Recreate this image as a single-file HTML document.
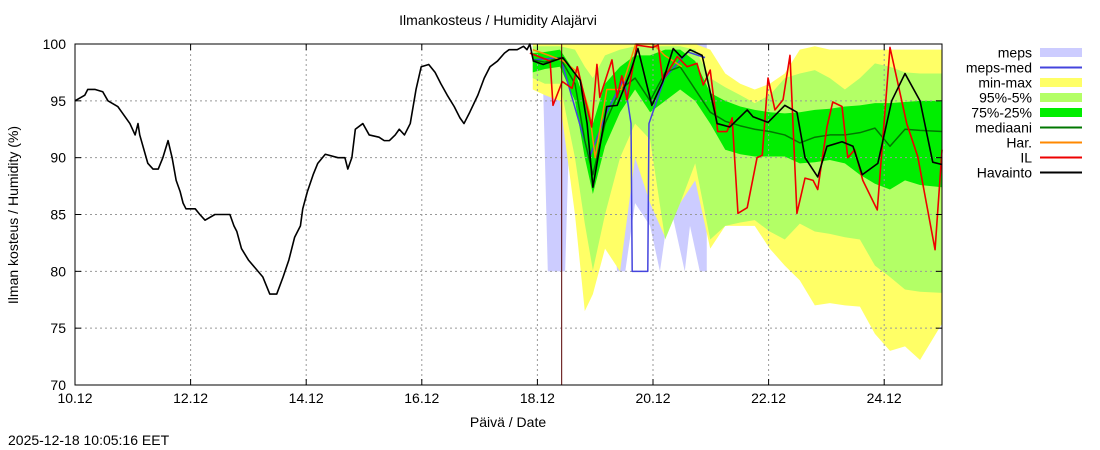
<!DOCTYPE html>
<html><head><meta charset="utf-8"><style>
body{margin:0;background:#fff;}
svg{display:block;font-family:"Liberation Sans",sans-serif;}
</style></head><body>
<svg id="c" width="1100" height="450" viewBox="0 0 1100 450">
<rect width="1100" height="450" fill="#fff"/>
<text x="498" y="25" font-size="14" text-anchor="middle">Ilmankosteus / Humidity  Alajärvi</text>
<text transform="translate(18,215) rotate(-90)" font-size="14" text-anchor="middle">Ilman kosteus / Humidity (%)</text>
<text x="508" y="427" font-size="14" text-anchor="middle">Päivä / Date</text>
<text x="8" y="445" font-size="14">2025-12-18 10:05:16 EET</text>
<g id="bands"></g><g id="grid"></g><g id="lines"></g><g id="axes"></g><g id="legend"></g>
</svg>
<script>
const xTickLabels=["10.12","12.12","14.12","16.12","18.12","20.12","22.12","24.12"];
const yTicks=[70,75,80,85,90,95,100];
// forecast sample times, days since 10.12 00:00
const fDays=[7.92,8.13,8.39,8.65,8.82,8.96,9.17,9.43,9.69,9.95,10.21,10.47,10.73,10.99,11.25,11.51,11.76,12.02,12.28,12.54,12.80,13.06,13.32,13.58,13.84,14.1,14.36,14.62,15.0];
const vMax=[100,100,100,100,100,100,100,100,100,100,100,100,100,99.5,97.4,96.5,96,96.5,97.4,99.5,99.8,99.5,99.5,99.5,99.5,99.5,99.5,99.5,99.5];
const vP95=[99.8,99.8,99.8,99.5,98,97,99,99.5,99.8,99.8,99.8,99.8,99.5,97,96.2,95.5,94.8,95.5,97,97.4,97.7,97,96,97,98.3,98,97.5,97.4,97.4];
const vP75=[99.2,99.3,99.5,97.5,95,93,96.5,98,99,99,99.5,99.5,98.5,95.7,95,94.5,94.2,94,93.9,94,94.2,94.3,94.5,94.6,94.8,94.8,94.9,95,95];
const vP25=[97.5,97.8,98,95,90,86.8,91,94,96,94,95,96,95,93,90.7,90.3,90.1,90.1,90.1,89.5,89.6,89.8,89.5,88.5,87.7,87.2,88,87.6,87.4];
const vP05=[97,96.5,96.5,90,84.2,80.1,85,90,93,91.6,82.8,86,89.5,82.8,84,84.3,84.5,83.5,82.8,84.2,83.5,83.3,83,82.8,80.5,79.5,78.4,78.2,78.1];
const vMin=[96,95.5,95,85,76.5,78,82,80,90,86,83,86,88,82,84,84,84,82,80.5,79.2,77,77.2,77,76.9,74.5,73,73.4,72.2,75.4];
const vMed=[98.6,98.4,98.8,96.5,91.5,88.5,93,96,97,95,97.5,98,96,94,93.2,92.8,92.5,92.3,92,91.3,91.8,92,92,92.2,92.6,91,92.5,92.4,92.3];
const mDays=[7.92,8.1,8.18,8.48,8.56,8.74,8.91,9.08,9.26,9.38,9.52,9.69,9.95,10.12,10.29,10.55,10.64,10.81,10.93];
const mLow=[98,96,80,80,94,96,93,94,86,80,80,86,84,80,86,80,84,80,80];
const mHigh=[100,100,100,100,100,100,100,100,100,100,100,100,100,100,100,100,100,100,100];
const medDays=[7.92,8.4,8.9,9.2,9.5,9.62,9.64,9.91,9.93,10.2,10.6,10.9];
const medVals=[98.6,98.8,90,94,97,93,80,80,93,97,99.3,98.8];
const obsDays=[0,0.17,0.22,0.35,0.48,0.57,0.74,0.81,0.95,1.04,1.09,1.12,1.26,1.35,1.44,1.52,1.61,1.68,1.75,1.82,1.87,1.92,2.08,2.16,2.25,2.42,2.62,2.68,2.75,2.8,2.88,3.0,3.25,3.37,3.49,3.6,3.7,3.8,3.9,3.94,4.02,4.12,4.2,4.33,4.55,4.67,4.72,4.79,4.85,4.98,5.09,5.26,5.35,5.44,5.54,5.61,5.7,5.8,5.9,5.99,6.12,6.23,6.33,6.44,6.56,6.66,6.73,6.83,6.97,7.08,7.18,7.31,7.43,7.51,7.65,7.76,7.82,7.87,7.93,8.1,8.44,8.74,8.86,8.96,9.2,9.38,9.6,9.74,9.98,10.17,10.35,10.5,10.64,10.85,11.11,11.33,11.63,11.73,11.99,12.28,12.49,12.63,12.85,13.01,13.27,13.46,13.62,13.89,14.13,14.36,14.62,14.84,15.0];
const obsVals=[95,95.5,96,96,95.8,95,94.5,94,93,92,93,92,89.5,89,89,90,91.5,90,88,87,86,85.5,85.5,85,84.5,85,85,85,84,83.5,82,81,79.5,78,78,79.5,81,83,84,85.5,87,88.5,89.5,90.3,90,90,89,90,92.5,93,92,91.8,91.5,91.5,92,92.5,92,93,96,98,98.2,97.5,96.5,95.5,94.5,93.5,93,94,95.5,97,98,98.5,99.2,99.5,99.5,99.8,99.5,100,98.5,98.2,98.8,96.8,93,87.4,94.5,94.6,97.4,99.6,94.6,96.7,99.6,98.8,99.5,99,93,92.7,94.2,93.6,93.1,94.6,94,90,88.3,91,91.4,91,88.5,89.5,95,97.4,95,89.6,89.4];
const ilDays=[7.87,8.22,8.27,8.43,8.6,8.69,8.94,9.03,9.08,9.29,9.38,9.46,9.55,9.72,10.0,10.09,10.17,10.42,10.59,10.76,10.87,10.99,11.12,11.28,11.37,11.47,11.63,11.8,11.89,11.99,12.11,12.25,12.37,12.49,12.63,12.77,12.85,13.01,13.11,13.27,13.37,13.49,13.63,13.88,14.1,14.39,14.58,14.88,15.0];
const ilVals=[99.2,98.5,94.6,96.7,96.1,98,92.7,98.2,95.3,98.6,95.3,97.2,95.1,99.9,99.7,99.9,96.8,98.9,98,98.3,96.4,97.7,92.3,92.3,93.5,85.1,85.6,90,90.2,97,94.2,95.1,99,85.1,88.2,88,87.2,92.7,94.9,94.5,90,90.7,88,85.4,99.7,93,90.1,81.9,90.7];
const harDays=[7.92,8.2,8.45,8.7,8.9,9.0,9.2,9.45,9.7,10.0,10.2,10.5];
const harVals=[99.5,99,98.5,97.5,94,90,96,96,100,100,99,98];

const X0=75,X1=942,Y0=44,Y1=385,DAYS=15;
const xs=d=>X0+d*(X1-X0)/DAYS;
const ys=v=>Y1-(v-70)*(Y1-Y0)/30;
const NS="http://www.w3.org/2000/svg";
function mk(tag,parent,attrs){const e=document.createElementNS(NS,tag);for(const k in attrs)e.setAttribute(k,attrs[k]);document.getElementById(parent).appendChild(e);return e;}
function band(days,lo,hi,color,name){
  let p=days.map((d,i)=>xs(d)+","+ys(hi[i]));
  for(let i=days.length-1;i>=0;i--)p.push(xs(days[i])+","+ys(lo[i]));
  const e=mk("polygon","bands",{points:p.join(" "),fill:color});
  
  
}
function line(days,vals,color,w,name){
  const e=mk("polyline","lines",{points:days.map((d,i)=>xs(d)+","+ys(vals[i])).join(" "),fill:"none",stroke:color,"stroke-width":w,"stroke-linejoin":"round"});
  
  
}
band(mDays,mLow,mHigh,"#ccccff","meps-band");
band(fDays,vMin,vMax,"#ffff66","min-max-band");
band(fDays,vP05,vP95,"#b3ff66","p95-p5-band");
band(fDays,vP25,vP75,"#00ee00","p75-p25-band");
xTickLabels.forEach((t,i)=>{
  const x=xs(i*2);
  if(i>0){const g=mk("line","grid",{x1:x,x2:x,y1:Y0,y2:Y1,stroke:"#999","stroke-dasharray":"2,3","stroke-width":1});
  }
  const tk=mk("text","axes",{x:x,y:Y1+18,"font-size":14,"text-anchor":"middle"});tk.textContent=t;
  
  mk("line","axes",{x1:x,x2:x,y1:Y1,y2:Y1-6,stroke:"#000"});
  mk("line","axes",{x1:x,x2:x,y1:Y0,y2:Y0+6,stroke:"#000"});
});
yTicks.forEach(v=>{
  const y=ys(v);
  if(v>70&&v<100){const g=mk("line","grid",{x1:X0,x2:X1,y1:y,y2:y,stroke:"#999","stroke-dasharray":"2,3","stroke-width":1});
  }
  const tk=mk("text","axes",{x:X0-9,y:y+5,"font-size":14,"text-anchor":"end"});tk.textContent=v;
  
  mk("line","axes",{x1:X0,x2:X0+6,y1:y,y2:y,stroke:"#000"});
  mk("line","axes",{x1:X1,x2:X1-6,y1:y,y2:y,stroke:"#000"});
});
line(medDays,medVals,"#4444dd",1.5,"meps-med-line");
line(fDays,vMed,"#007700",1.5,"mediaani-line");
line(harDays,harVals,"#ff8800",1.5,"har-line");
line(ilDays,ilVals,"#ee0000",1.6,"il-line");
line(obsDays,obsVals,"#000",1.6,"havainto-line");
const now=mk("line","lines",{x1:xs(8.42),x2:xs(8.42),y1:Y0,y2:Y1,stroke:"#550000","stroke-width":1});

const fr=mk("rect","axes",{x:X0,y:Y0,width:X1-X0,height:Y1-Y0,fill:"none",stroke:"#000"});

const legNames=["meps","meps-med","min-max","95%-5%","75%-25%","mediaani","Har.","IL","Havainto"];
const legColors=["#ccccff","#4444dd","#ffff66","#b3ff66","#00ee00","#007700","#ff8800","#ee0000","#000"];
const legThick=[1,0,1,1,1,0,0,0,0];
legNames.forEach((n,i)=>{
  const y=52.5+i*15;
  const t=mk("text","legend",{x:1032,y:y+5,"font-size":14,"text-anchor":"end"});t.textContent=n;
  
  const s=mk("line","legend",{x1:1040,x2:1082,y1:y,y2:y,stroke:legColors[i],"stroke-width":legThick[i]?9:2});
  
});
</script>
</body></html>
